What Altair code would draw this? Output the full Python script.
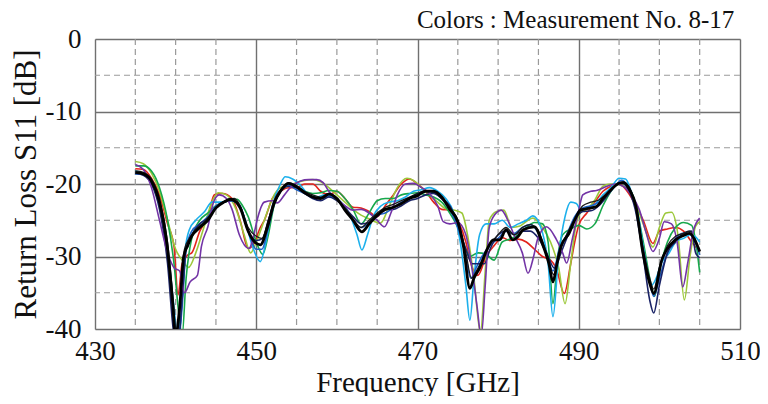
import altair as alt
import pandas as pd

# ---------------- data ----------------
red = [(435,-17.9),(436,-18.0),(437,-19.2),(438,-21.5),(439,-25.5),(439.8,-28.6),(440.3,-35.3),(440.8,-31),(441.5,-29.8),(442,-29.5),(443,-26.5),(444,-24.5),(444.8,-21.5),(445.8,-21.3),(447,-22),(448,-25),(449,-28.9),(449.8,-28),(450.5,-26),(451,-25),(452,-22),(453,-21),(454,-20.5),(455,-20.5),(456,-20),(457,-20),(458,-21),(459,-21.5),(460,-21),(461,-22),(462,-23.2),(463,-23.3),(464,-23.8),(465,-24.5),(466,-23),(467,-21.5),(468,-20),(469,-19.3),(470,-20),(471,-21),(472,-22.5),(473,-23.5),(474,-23.6),(475,-25),(476,-28),(476.5,-30.5),(477.5,-32.6),(478.5,-30),(479.5,-28.5),(480.5,-27.4),(481.5,-27.8),(482.5,-27.6),(483.5,-28),(484.5,-29),(485.5,-30),(486.5,-30.5),(487.2,-31.6),(488.2,-35.1),(489,-31),(489.5,-28),(490,-25.7),(491,-24),(492,-22.5),(493,-21),(494,-20.3),(495,-20),(496,-21),(497,-22.8),(498,-25),(499.2,-28.2),(500,-26.5),(501,-26.2),(502,-26),(503,-26.5),(504,-28),(505,-29.3)]

lime = [(435,-16.9),(436,-17.2),(437,-18.5),(438,-21),(439,-25),(440,-29),(440.8,-30.5),(441.6,-31.5),(442.5,-29.5),(443.5,-26),(444.5,-22.5),(445.3,-21.2),(446.3,-21.5),(447.5,-23.5),(448.5,-27),(449.3,-29.5),(450,-28),(451,-25),(452,-22),(453,-20.5),(454,-20.3),(455,-19.8),(456,-19.5),(457,-19.4),(458,-19.7),(459,-20.5),(460,-21.5),(461,-22.5),(462,-23.5),(463,-24.3),(464,-24.8),(465.4,-25.4),(466.5,-23),(467.5,-20.5),(468.7,-19.2),(469.5,-19.5),(470.5,-20.5),(471.5,-21.5),(472.5,-22.5),(473.5,-23.4),(474.5,-23.6),(475.5,-24),(476.2,-27),(477,-33),(477.8,-40.5),(478.4,-32),(478.9,-25),(479.8,-23.8),(480.7,-23.6),(481.7,-26),(482.7,-25.8),(483.7,-25),(484.3,-24.7),(485.5,-26),(486.5,-28),(487.5,-31.5),(488.3,-36.5),(489,-31),(489.6,-26),(490.2,-24),(491,-23.5),(492,-22.2),(493,-20.3),(494,-20),(495,-20.1),(496,-20.7),(497,-22.5),(498,-25.5),(499.2,-28.7),(500,-26),(500.8,-24),(501.5,-23.9),(502.3,-27),(503.1,-36),(503.8,-30),(504.5,-25.8),(505,-25.2)]

green = [(435,-17.5),(436,-17.5),(437,-18.2),(438,-20.5),(439,-25),(439.8,-31),(440.4,-38),(440.8,-41),(441.3,-33),(442,-27.5),(443,-25),(444,-24),(445,-23),(446,-22.5),(447,-22.2),(447.6,-22.1),(448.3,-23),(449,-24.5),(450,-28),(450.8,-29.7),(451.5,-27),(452.2,-23),(453,-21),(454,-20.2),(455,-20.3),(456,-21),(457,-21.3),(458,-21.2),(459,-20.9),(460,-21),(461,-22),(462,-23.5),(463,-25.5),(464,-24),(465,-22.3),(466,-22),(467,-22),(468,-21.5),(469,-21.3),(470,-21.2),(471,-21.5),(472,-21.8),(473,-22.5),(474,-24),(475,-26),(476,-29),(476.5,-30),(477.5,-29.5),(478.5,-29.7),(479.5,-30.5),(480.5,-28),(481.5,-27.6),(482.5,-27),(483.5,-26),(484.5,-25.3),(485.5,-25.5),(486.2,-28),(486.8,-36.5),(487.4,-30),(488,-27),(489,-26.2),(490,-25.7),(491,-26.2),(492,-25.5),(493,-23),(494,-21),(495,-19.8),(496,-20.3),(497,-22.5),(498,-28),(499,-34),(499.4,-35.5),(500,-32),(501,-28),(502,-26),(503,-25.3),(504,-25.7),(504.6,-28.6),(505,-32.2)]

cyan = [(435,-18.2),(436,-18.5),(437,-19.5),(438,-22.5),(439,-29),(439.8,-37),(440.3,-42),(440.8,-36),(441.2,-29),(441.7,-26.3),(442.5,-25),(443.6,-23.8),(444.5,-22.5),(445.5,-22.5),(446.5,-22.3),(447.5,-22.5),(448.5,-24.5),(449.5,-28.5),(450.5,-30.7),(451.2,-28),(452,-23),(453,-20),(453.6,-19),(454.5,-19.3),(455.5,-20.2),(456.5,-21.5),(457.5,-21.8),(458.5,-21.5),(459.5,-21.8),(460.5,-22.5),(461.5,-24),(462.5,-27),(463.1,-29.1),(463.8,-27),(464.5,-24.5),(465.5,-23),(466.5,-22.5),(467.5,-22.3),(468.5,-21.8),(469.5,-21),(470.5,-20.8),(471.5,-20.5),(472.5,-21),(473.5,-22),(474.5,-24),(475.3,-28),(476,-34),(476.5,-38.8),(477,-33),(477.7,-27),(478.5,-25.5),(479.5,-25.5),(480.5,-25),(481.5,-26),(482.5,-25.5),(483.5,-25),(484.3,-24.4),(485.3,-26),(486.2,-31),(486.8,-38.3),(487.5,-30),(488.3,-24.5),(489,-22.5),(489.7,-22.7),(490.3,-23.6),(491,-23.2),(492,-22.8),(493,-21.5),(494,-20.5),(495,-19.2),(495.8,-19.3),(496.5,-21),(497.3,-24),(498.2,-30),(499,-34),(499.6,-33),(500.2,-31),(501.1,-29.7),(502.1,-27.9),(503,-27.5),(503.8,-27),(504.5,-27.3),(505,-28)]

blue = [(435,-18.6),(436,-18.7),(437,-19.8),(438,-23),(439,-30),(439.8,-39),(440.3,-42),(440.8,-37),(441.3,-29),(442,-26.5),(443,-25.5),(444,-24.5),(445,-23),(446,-22.5),(447,-22.2),(448,-23),(449,-26.5),(450,-29),(450.7,-29),(451.5,-26),(452.3,-22.5),(453,-21),(454,-20.2),(455,-20.8),(456,-21.3),(457,-21.8),(458,-22),(459,-21.7),(460,-22.2),(461,-23.5),(462,-25),(463,-26),(464,-25.3),(465,-24.3),(466,-24),(467,-23.3),(468,-22.5),(469,-22),(470,-21.3),(471,-21),(472,-21.2),(473,-22),(474,-23.5),(475,-26),(476,-30),(476.6,-33),(477.3,-31.5),(478,-30),(479,-28.5),(480,-27.5),(481,-26.5),(482,-26.8),(483,-26),(484,-25.6),(485,-26.8),(486,-29.5),(486.8,-32),(487.6,-29),(488.5,-27),(489.5,-24.5),(490.5,-23.3),(491.5,-23),(492.5,-22.5),(493.5,-21.5),(494.5,-20.3),(495.3,-19.5),(496,-20.2),(497,-23),(498,-29),(498.8,-33.5),(499.3,-35.5),(500,-33),(501,-29.5),(502,-27.5),(503,-26.8),(504,-27),(505,-29.8)]

navy = [(435,-18.5),(436,-18.8),(437,-20),(438,-23.5),(439,-31),(439.7,-40),(440.2,-43),(440.8,-36),(441.3,-29),(442,-27),(443,-25.5),(444,-24.7),(445,-23.3),(446,-22.5),(447,-22.3),(448,-23.2),(449,-26.5),(450,-27.8),(450.8,-27.5),(451.5,-25),(452.3,-22.5),(453,-21),(454,-20.3),(455,-20.5),(456,-21.3),(457,-22),(458,-22.3),(459,-21.8),(460,-22.3),(461,-23.3),(462,-24.5),(463,-25.5),(464,-25.3),(465,-24.5),(466,-23.5),(467,-23.5),(468,-23),(469,-22.3),(470,-22),(471,-21.5),(472,-21.3),(473,-22),(474,-23),(475,-25.5),(476,-29),(476.8,-31),(477.5,-31),(478.3,-31),(479,-29),(480,-27),(481,-26.5),(482,-27),(483,-26.5),(484,-26.5),(485,-27.5),(486,-29.5),(487,-31.6),(487.8,-29.5),(488.5,-27.5),(489.5,-25),(490.5,-23.8),(491.5,-23.7),(492.5,-23),(493.5,-21.7),(494.5,-20.3),(495.3,-19.8),(496,-20.5),(497,-23.5),(498,-30),(498.8,-36),(499.3,-37.8),(500,-34),(501,-29.5),(502,-28),(503,-26.8),(504,-26.5),(504.5,-29.5),(505,-30.2)]

purple = [(435,-17.3),(436,-18),(437,-20.5),(438,-25),(439,-29.5),(439.85,-31.6),(440.5,-32),(441.1,-35),(441.8,-33.5),(442.7,-32.6),(443.2,-28.6),(444,-25.9),(444.7,-22.5),(445.4,-21.5),(446.3,-22),(447,-23.5),(447.9,-27),(449.1,-28.9),(449.7,-27),(450.1,-25),(451,-22.5),(452,-22.3),(452.6,-22.6),(453.5,-21.5),(454.3,-20.4),(455.5,-19.6),(456.5,-19.4),(457.5,-19.4),(458.3,-19.8),(459,-21),(460,-22),(461,-23),(462,-23.6),(463,-23.5),(464,-24),(465,-25),(465.9,-25.9),(466.7,-24),(467.5,-21.5),(468.5,-20),(469.5,-19.9),(470.5,-20.5),(471.5,-21.3),(472.5,-23),(473.2,-25.2),(474,-25.5),(475,-25.3),(476,-27),(476.8,-32),(477.4,-37),(477.9,-41),(478.4,-34),(478.9,-26),(479.6,-24.2),(480.4,-23.6),(481.2,-25),(482,-27.1),(483,-29.5),(483.7,-32.3),(484.4,-30),(484.9,-27.6),(486,-25.9),(487.2,-27.6),(488,-29.5),(488.5,-30.9),(489.2,-27.6),(490,-23.6),(490.5,-21.5),(491.5,-21),(492.2,-20.9),(493.5,-20.3),(494.5,-20),(495.5,-20.3),(496.5,-21.5),(497.5,-23.5),(498.3,-26.5),(499.2,-29.3),(500,-27.5),(500.6,-25.2),(501.5,-25.5),(502.2,-28),(502.9,-34.2),(503.5,-31),(504.2,-26.5),(505,-24.7)]

black_thin = [(435,-18.2),(436,-18.4),(437,-19.3),(438,-22),(439,-28),(439.7,-36),(440.1,-41),(440.6,-36),(441.1,-29),(441.7,-27.5),(442.5,-26.3),(443.5,-25.3),(444.5,-24),(445.5,-22.7),(446.5,-22.2),(447.3,-22),(448,-23),(449,-26),(450,-27.2),(450.7,-27.5),(451.5,-25),(452.2,-22.3),(453,-20.8),(454,-19.8),(455,-20.2),(456,-21),(457,-21.5),(458,-21.8),(459,-21.3),(460,-22.2),(461,-23.3),(462,-24.8),(463,-26),(464,-25),(465,-24),(466,-23.2),(467,-22.8),(468,-22.3),(469,-21.8),(470,-21.3),(471,-20.9),(472,-21.1),(473,-22),(474,-23.2),(475,-25),(476,-29.5),(476.7,-33),(477.3,-32),(478,-30.5),(479,-28.3),(480,-27),(481,-26),(482,-27),(483,-26),(484,-25.6),(485,-26.5),(486,-29.5),(486.9,-32.5),(487.6,-29.5),(488.5,-27),(489.5,-24.8),(490.5,-23),(491.5,-22.5),(492.5,-22.2),(493.5,-21.3),(494.5,-20.3),(495.5,-19.7),(496.3,-20.5),(497,-22.8),(498,-29),(498.8,-33),(499.3,-34.5),(500,-31.5),(501,-28.5),(502,-27.2),(503,-26.8),(503.8,-26.5),(504.4,-28),(505,-29)]

black = [(435,-18.4),(436,-18.6),(437,-19.6),(438,-22.5),(439,-29),(439.6,-36),(440,-41),(440.5,-37),(441,-30),(441.5,-28.5),(442,-27.2),(443,-26),(444,-25),(445,-23.3),(446,-22.5),(446.8,-22.1),(447.5,-22.5),(448,-23.3),(449,-26.5),(449.8,-28),(450.5,-28.4),(451.4,-25.9),(452.2,-22.7),(453,-21),(454,-19.9),(455,-20.4),(456,-21.2),(457,-21.8),(458,-22),(459,-21.4),(460,-22),(461,-23.6),(462,-25),(463.1,-26.6),(464,-25.5),(465,-24.3),(466,-23.5),(467,-23.2),(468,-22.7),(469,-22),(470,-21.6),(471,-21),(472,-21),(473,-21.8),(474,-23.5),(475,-25.2),(475.7,-28.6),(476.5,-34.4),(477,-33),(477.7,-31.6),(478.6,-29.1),(479.4,-27.7),(480.2,-27.7),(481,-26.3),(481.8,-27.7),(482.5,-27.2),(483.1,-26.3),(484.5,-25.9),(485.6,-28.6),(486.3,-31),(486.8,-33.5),(487.3,-31),(487.8,-28.6),(488.8,-26.8),(489.7,-24.5),(490.2,-23.6),(491,-23.4),(492.2,-23.1),(493,-22),(494,-20.8),(495,-19.9),(495.6,-19.8),(496.3,-20.8),(497.1,-23.1),(497.9,-29.1),(498.8,-33.7),(499.3,-35.1),(500.3,-30.5),(501,-28.9),(502,-27.7),(503,-27.1),(503.7,-26.8),(504.3,-27.5),(505,-29.3)]

series_colors = ["#e3241c", "#9cc83a", "#17a84b", "#1cb0ec", "#1f63c6", "#1a2366", "#7334a6", "#1a1a1a", "#000000"]
series_widths = [1.6, 1.6, 1.6, 1.6, 1.6, 1.6, 1.6, 1.3, 2.8]
series_data = [red, lime, green, cyan, blue, navy, purple, black_thin, black]

x_major = [430, 450, 470, 490, 510]
y_major = [-40, -30, -20, -10, 0]
x_minor = [435, 440, 445, 455, 460, 465, 475, 480, 485, 495, 500, 505]
y_minor = [-35, -25, -15, -5]

SERIF = "Liberation Serif"

xscale = alt.Scale(domain=[430, 510], nice=False, zero=False)
yscale = alt.Scale(domain=[-40, 0], nice=False, zero=False)

xaxis = alt.Axis(
    values=x_major, title="Frequency [GHz]", grid=True, gridColor="#707070",
    gridWidth=1.4, domain=False, ticks=False, labelPadding=9, labelFlush=False,
    labelOverlap=False, labelFont=SERIF, labelFontSize=27, labelColor="#111",
    titleFont=SERIF, titleFontSize=29, titleFontWeight="normal",
    titleColor="#111", titlePadding=4, labelExpr="'' + datum.value")
yaxis = alt.Axis(
    values=y_major, title="Return Loss S11 [dB]", grid=True, gridColor="#707070",
    gridWidth=1.4, domain=False, ticks=False, labelPadding=14, labelFlush=False,
    labelOverlap=False, labelFont=SERIF, labelFontSize=27, labelColor="#111",
    titleFont=SERIF, titleFontSize=31, titleFontWeight="normal",
    titleColor="#111", titlePadding=3, labelExpr="'' + datum.value")

vmin = alt.Chart(pd.DataFrame({"v": x_minor})).mark_rule(
    color="#9a9a9a", strokeWidth=1.2, strokeDash=[6, 4]
).encode(x=alt.X("v:Q", scale=xscale, axis=xaxis))
hmin = alt.Chart(pd.DataFrame({"h": y_minor})).mark_rule(
    color="#9a9a9a", strokeWidth=1.2, strokeDash=[6, 4]
).encode(y=alt.Y("h:Q", scale=yscale, axis=yaxis))

layers = [vmin, hmin]
for pts, col, w in zip(series_data, series_colors, series_widths):
    df = pd.DataFrame(pts, columns=["freq", "s11"])
    layers.append(
        alt.Chart(df).mark_line(color=col, strokeWidth=w, interpolate="monotone", clip=True)
        .encode(x=alt.X("freq:Q", scale=xscale, axis=xaxis),
                y=alt.Y("s11:Q", scale=yscale, axis=yaxis),
                order=alt.Order("freq:Q"))
    )

chart = alt.layer(*layers).properties(
    width=645,
    height=290,
    autosize=alt.AutoSizeParams(type="none"),
    padding={"left": 87, "top": 31, "right": 20, "bottom": 67},
    title=alt.TitleParams(
        "Colors : Measurement No. 8-17", anchor="end", font=SERIF, fontSize=25,
        fontWeight="normal", color="#111", offset=-8, dx=-26),
).configure_view(stroke="#555555", strokeWidth=1.6).configure(background="white")

chart.save("out.html", embed_options={"renderer": "svg", "actions": False})
